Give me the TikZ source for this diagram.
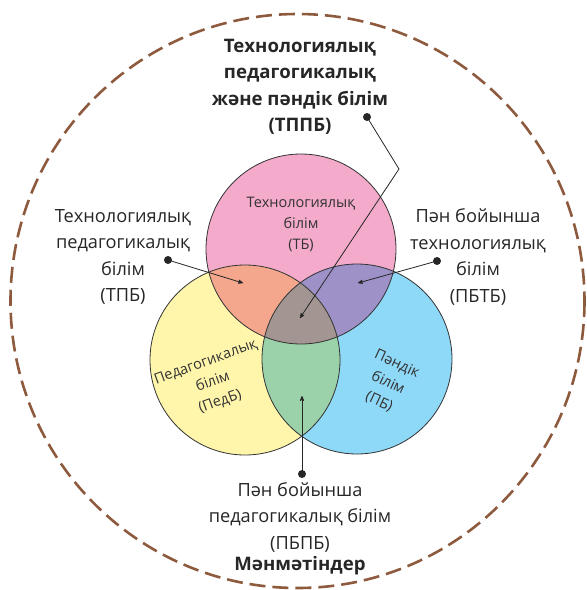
\documentclass[tikz,border=0pt]{standalone}
\usepackage{fontspec}
\setmainfont{Open Sans}
\usepackage{xcolor}
\definecolor{TBCOLOR}{RGB}{243,170,203}
\definecolor{PEDBCOLOR}{RGB}{255,246,172}
\definecolor{PBCOLOR}{RGB}{142,216,248}
\definecolor{TPBCOLOR}{RGB}{245,167,141}
\definecolor{PBTBCOLOR}{RGB}{157,145,200}
\definecolor{PBPBCOLOR}{RGB}{155,210,170}
\definecolor{TPPBCOLOR}{RGB}{163,149,145}
\definecolor{CONTEXTCOLOR}{RGB}{142,90,61}
\usetikzlibrary{arrows,positioning,calc}
\tikzset{
  label-style/.style = {
    align=center, text=black!85,
    font=\fontsize{18.2}{26.5}\selectfont
  },
  title-style/.style = {
    label-style,
    font=\fontsize{18.6}{26.5}\selectfont\bfseries
  },
  inner-style/.style = {
    align=center, text=black!80,
    font=\fontsize{14.5}{21}\selectfont
  },
  circle-style/.style = {
    draw=black!80, line width=0.8pt
  },
  dot-style/.style = {
    circle, fill=black!85, inner sep=0pt, minimum size=8pt
  },
  context-style/.style = {
    draw=CONTEXTCOLOR, line width=2.6pt, dash pattern=on 16pt off 7pt
  },
  arrow-style/.style = {
    draw, ->, >=stealth', line width=0.8pt, black!85
  }
}

\begin{document}
\begin{tikzpicture}[x=1pt,y=-1pt]
    \useasboundingbox (0,0) rectangle (587,590);

    %%% circle centres
    \coordinate (tb) at (301,249);
    \coordinate (pedb) at (245,360);
    \coordinate (pb) at (357,359);
    \def\rad{95}

    %%% fills
    \fill[TBCOLOR] (tb) circle (\rad);
    \fill[PEDBCOLOR] (pedb) circle (\rad);
    \fill[PBCOLOR] (pb) circle (\rad);
    \begin{scope}
      \clip (tb) circle (\rad);
      \fill[TPBCOLOR] (pedb) circle (\rad);
      \fill[PBTBCOLOR] (pb) circle (\rad);
    \end{scope}
    \begin{scope}
      \clip (pedb) circle (\rad);
      \fill[PBPBCOLOR] (pb) circle (\rad);
      \clip (pb) circle (\rad);
      \fill[TPPBCOLOR] (tb) circle (\rad);
    \end{scope}
    \draw[circle-style] (tb) circle (\rad);
    \draw[circle-style] (pedb) circle (\rad);
    \draw[circle-style] (pb) circle (\rad);

    %%% context
    \draw[context-style] (297.5,301) circle (287);

    %%% texts inside
    \node[inner-style] (tbText) at (301,224) {Технологиялық\\білім\\(ТБ)};
    \node[inner-style,rotate=20] (pedbText) at (213,382) {Педагогикалық\\білім\\(ПедБ)};
    \node[inner-style,rotate=-25] (pbText) at (388,383) {Пәндік\\білім\\(ПБ)};

    %%% texts outside
    \node[title-style] (tppbText) at (300,87) {Технологиялық\\педагогикалық\\және пәндік білім\\(ТППБ)};
    \node[label-style] (tpbText) at (123,257) {Технологиялық\\педагогикалық\\білім\\(ТПБ)};
    \node[label-style] (pbtbText) at (478,257) {Пән бойынша\\технологиялық\\білім\\(ПБТБ)};
    \node[label-style] (pbpbText) at (300,517) {Пән бойынша\\педагогикалық білім\\(ПБПБ)};
    \node[title-style] (contextText) at (300,566) {Мәнмәтіндер};

    %%% dots and arrows
    \node[dot-style] (tppbDot) at (367,117) {};
    \node[dot-style] (tpbDot) at (168,260) {};
    \node[dot-style] (pbtbDot) at (437,261) {};
    \node[dot-style] (pbpbDot) at (302,474) {};
    \coordinate (tppbBend) at (399,169);
    \draw[arrow-style] (tppbDot.center) -- (tppbBend) -- (300,318);
    \path[arrow-style] (tpbDot.center) -- (243,283);
    \path[arrow-style] (pbtbDot.center) -- (358,283);
    \path[arrow-style] (pbpbDot.center) -- (302,396);
\end{tikzpicture}
\end{document}
